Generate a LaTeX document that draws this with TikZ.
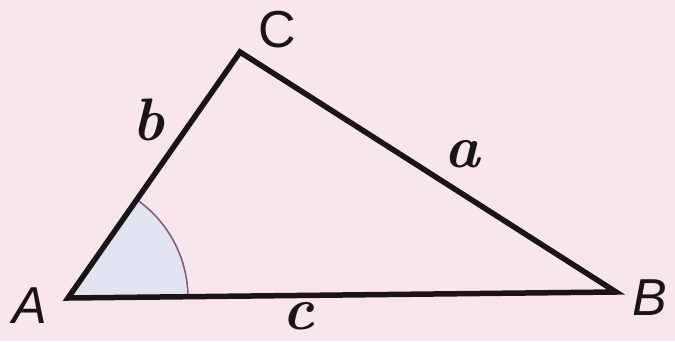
\documentclass[tikz,border=0pt]{standalone}
\usepackage{fontspec}
\setsansfont{Liberation Sans}
\definecolor{bg}{HTML}{F8E6EC}
\definecolor{angfill}{HTML}{E2E4F1}
\definecolor{angarc}{HTML}{8A5A84}
\definecolor{ink}{HTML}{1A1416}
\begin{document}
\begin{tikzpicture}[x=1pt,y=-1pt,
  vlabel/.style={font=\sffamily\itshape\fontsize{52}{56}\selectfont, text=ink, inner sep=0pt},
  slabel/.style={font=\bfseries\itshape\fontsize{60}{64}\selectfont, text=ink, inner sep=0pt},
  side/.style={line width=5.5pt, draw=ink, line join=miter}]
\fill[bg] (0,0) rectangle (675,341);
\useasboundingbox (0,0) rectangle (675,341);
\coordinate (A) at (68,298);
\coordinate (C) at (240,52);
\coordinate (B) at (616,292);
% angle at A
\fill[angfill] (A) -- ++(-0.6:120) arc[start angle=-0.6, end angle=-55, radius=120] -- cycle;
\draw[angarc, line width=1.6pt] (A) ++(-0.6:120) arc[start angle=-0.6, end angle=-55, radius=120];
\draw[side] (A) -- (C) -- (B) -- cycle;
\node[vlabel] (lA) at (30,306) {A};
\node[vlabel] (lB) at (650,298) {B};
\node[vlabel, font=\sffamily\fontsize{52}{56}\selectfont] (lC) at (277,30) {C};
\node[slabel] (la) at (462,154) {a};
\node[slabel] (lb) at (148,120) {b};
\node[slabel] (lc) at (298,316) {c};
\end{tikzpicture}
\end{document}
